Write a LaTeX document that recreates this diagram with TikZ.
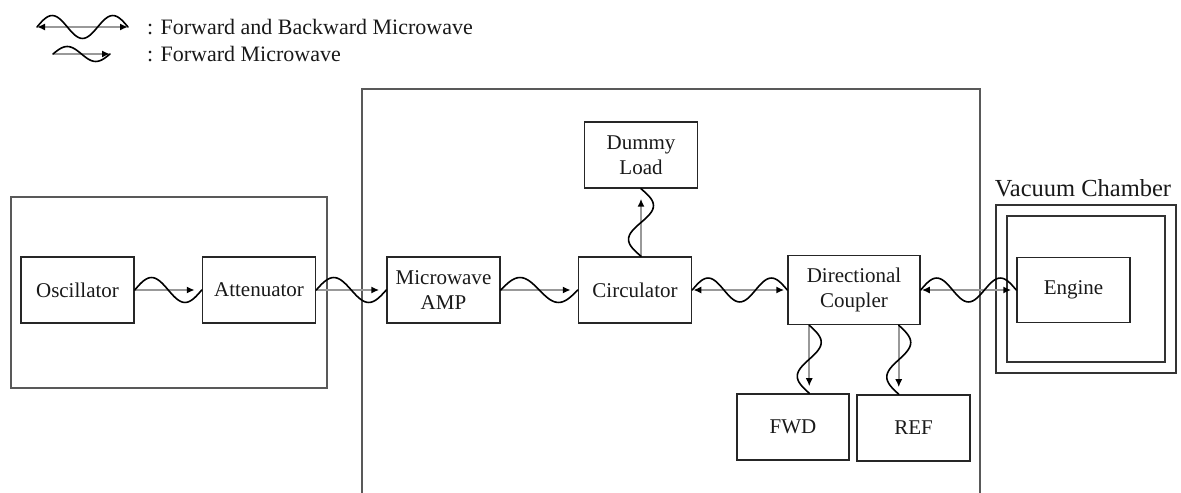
\documentclass[tikz,border=0pt]{standalone}
\usepackage{fontspec}
\setmainfont{Liberation Serif}
\usetikzlibrary{calc,arrows.meta}

\tikzset{
  block/.style={draw=black!85, line width=1.5bp, minimum width=113bp, minimum height=66bp,
    inner sep=2bp, align=center, text=black!90, font=\fontsize{21bp}{25bp}\selectfont},
  frame/.style={draw=black!65, line width=1.5bp},
  chamber/.style={draw=black!80, line width=2bp},
  guide/.style={draw=black!40, line width=2.2bp},
  tip/.style={-{Latex[length=8bp,width=7bp,color=black]}},
  fwdarrow/.style={guide, -{Latex[length=8bp,width=7bp,color=black]}, shorten >=7bp},
  bothways/.style={guide, {Latex[length=8bp,width=7bp,color=black]}-{Latex[length=8bp,width=7bp,color=black]}, shorten >=3bp},
  wave/.style={draw=black, line width=1.6bp, line cap=round},
  legendtext/.style={anchor=west, inner sep=0pt, text=black!90, font=\fontsize{22bp}{26bp}\selectfont},
}

% sine wave laid along the straight line from #1 to #2:
% #3 = number of cycles, #4 = amplitude (crest to the left of travel)
\newcommand\mwave[4]{%
  \draw[wave] let \p1=(#1), \p2=(#2), \n1={veclen(\x2-\x1,\y2-\y1)} in
    plot[variable=\t, domain=0:1, samples=61, smooth]
      ({\x1+\t*(\x2-\x1)-#4*sin(360*#3*\t)*(\y2-\y1)/\n1},
       {\y1+\t*(\y2-\y1)+#4*sin(360*#3*\t)*(\x2-\x1)/\n1});
}

\begin{document}
\begin{tikzpicture}[x=1bp, y=-1bp]
\useasboundingbox (0,0) rectangle (1181,493);

% legend
\coordinate (lga) at (37,27);  \coordinate (lgb) at (128,27);
\coordinate (lfa) at (53,54);  \coordinate (lfb) at (110,54);
\draw[guide, {Latex[length=8bp,width=7bp,color=black]}-{Latex[length=8bp,width=7bp,color=black]}] (lga) -- (lgb);
\mwave{lga}{lgb}{1.5}{11.5}
\draw[guide, tip] (lfa) -- (lfb);
\mwave{lfa}{lfb}{1}{7.5}
\node[legendtext] (lgboth) at (147,27) {: Forward and Backward Microwave};
\node[legendtext] (lgfwd)  at (147,54) {: Forward Microwave};

% enclosures
\draw[frame] (11,197) rectangle (327,388);
\draw[frame] (362,500) -- (362,89) -- (980,89) -- (980,500);
\draw[chamber] (996,205) rectangle (1176,373);
\draw[chamber] (1007,216) rectangle (1165,362);
\node[text=black!90, font=\fontsize{24.5bp}{29bp}\selectfont] (vaclabel) at (1083,188) {Vacuum Chamber};

% blocks
\node[block] (osc)    at (77.5,290)  {Oscillator};
\node[block] (att)    at (259,290)   {Attenuator};
\node[block] (amp)    at (443.5,290) {Microwave\\AMP};
\node[block] (circ)   at (635,290)   {Circulator};
\node[block] (dummy)  at (641,155)   {Dummy\\Load};
\node[block, minimum width=132bp, minimum height=69bp] (dc) at (854,290) {Directional\\Coupler};
\node[block, minimum width=112bp] (fwd) at (793,427) {FWD};
\node[block] (ref)    at (913.5,428) {REF};
\node[block, minimum height=65bp] (engine) at (1073.5,290) {Engine};

% tap points
\coordinate (dltap)  at (circ.north -| dummy.south);
\coordinate (fwdtap) at ([xshift=22bp]dc.south west);
\coordinate (reftap) at ([xshift=-22bp]dc.south east);
\coordinate (fwdin)  at (fwdtap |- fwd.north);
\coordinate (refin)  at (reftap |- ref.north);

% straight guides
\draw[fwdarrow] (osc.east) -- (att.west);
\draw[fwdarrow] (att.east) -- (amp.west);
\draw[fwdarrow] (amp.east) -- (circ.west);
\draw[fwdarrow, shorten >=10bp] (dltap) -- (dummy.south);
\draw[bothways, shorten <=1bp] (circ.east) -- (dc.west);
\draw[bothways, shorten <=1bp, shorten >=5bp] (dc.east) -- (engine.west);
\draw[fwdarrow] (fwdtap) -- (fwdin);
\draw[fwdarrow] (reftap) -- (refin);

% microwaves
\mwave{osc.east}{att.west}{1}{12.5}
\mwave{att.east}{amp.west}{1}{12.5}
\mwave{amp.east}{circ.west}{1}{12.5}
\mwave{dltap}{dummy.south}{1}{12.5}
\mwave{circ.east}{dc.west}{1.5}{12}
\mwave{dc.east}{engine.west}{1.5}{12}
\mwave{fwdtap}{fwdin}{1}{12}
\mwave{reftap}{refin}{1}{12}
\end{tikzpicture}
\end{document}
